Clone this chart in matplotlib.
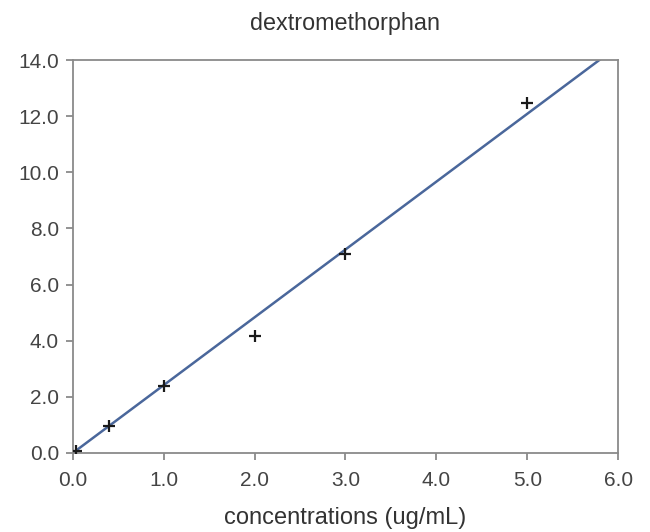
import numpy as np
import matplotlib.pyplot as plt

plt.rcParams['font.family'] = ['Liberation Sans', 'DejaVu Sans']

# calibration data
conc = np.array([0.04, 0.4, 1.0, 2.0, 3.0, 5.0])
resp = np.array([0.08, 0.95, 2.38, 4.18, 7.08, 12.46])

# trend line through origin
slope = np.sum(conc * resp) / np.sum(conc ** 2)
line_x = np.array([0.0, 6.0])
line_y = slope * line_x

fig = plt.figure(figsize=(6.5, 5.32), dpi=100)
ax = fig.add_axes([0.112, 0.1485, 0.839, 0.7385])

ax.plot(line_x, line_y, color="#4a679b", lw=1.8, zorder=2)
ax.plot(conc, resp, "+", color="#1a1a1a", ms=9, mew=1.6, zorder=3)

ax.set_xlim(0, 6)
ax.set_ylim(0, 14)
ax.set_xticks(np.arange(0, 7, 1))
ax.set_yticks(np.arange(0, 16, 2))
ax.xaxis.set_major_formatter(plt.FormatStrFormatter("%.1f"))
ax.yaxis.set_major_formatter(plt.FormatStrFormatter("%.1f"))

for s in ax.spines.values():
    s.set_color("#8a8a8a")
    s.set_linewidth(1.3)
ax.tick_params(colors="#8a8a8a", labelcolor="#444444", labelsize=15,
               length=5, width=1.3, direction="out")
ax.tick_params(axis="x", pad=8)
ax.tick_params(axis="y", pad=5)

ax.set_title("dextromethorphan", fontsize=16.8, color="#333333", pad=22)
ax.set_xlabel("concentrations (ug/mL)", fontsize=17, color="#333333", labelpad=12)

fig.savefig("out.png", dpi=100)
